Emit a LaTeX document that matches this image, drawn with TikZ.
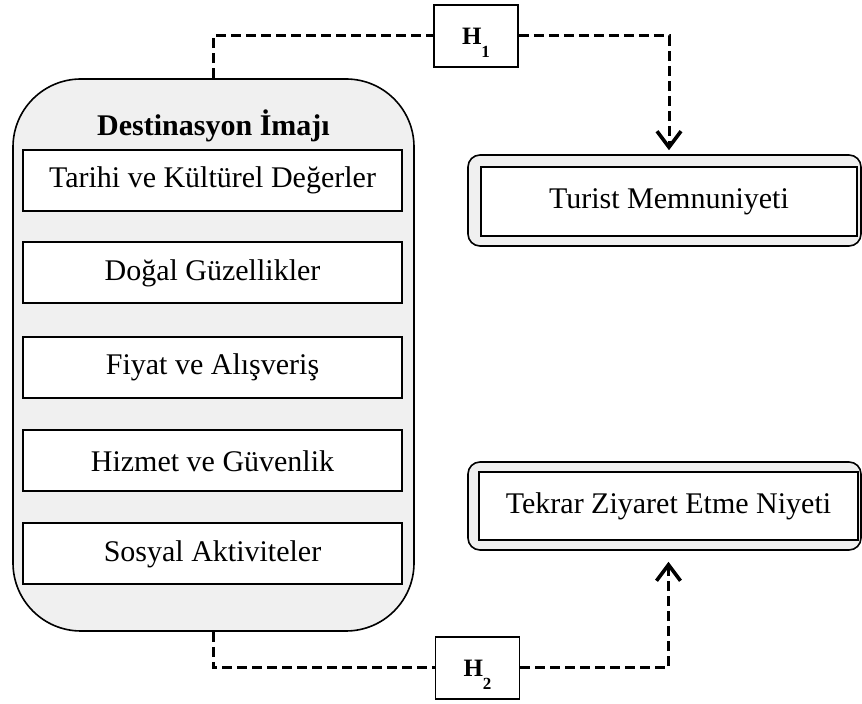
\documentclass[tikz,border=0pt]{standalone}
\usepackage{fontspec}
\setmainfont{Liberation Serif}
\usepackage{tikz}
\usetikzlibrary{arrows.meta}
\usetikzlibrary{calc}
\definecolor{zemin}{HTML}{F0F0F0}

\begin{document}
\begin{tikzpicture}[x=0.5pt,y=-0.5pt,
	kutu/.style={draw,line width=1pt,fill=white,inner sep=0pt,minimum width=189.5pt,minimum height=30.5pt,font=\fontsize{15}{18}\selectfont},
	dis/.style={draw,line width=0.8pt,fill=zemin,rounded corners=6pt,inner sep=0pt,minimum width=196.5pt},
	hip/.style={draw,line width=0.8pt,fill=white,inner sep=0pt,minimum width=42pt,minimum height=31pt,font=\fontsize{12.5}{14}\selectfont\bfseries},
	yol/.style={line width=1.5pt,dash pattern=on 5pt off 2.5pt},
	ok/.style={-{Straight Barb[length=8pt,width=12pt,line width=1.8pt]}}]
			\useasboundingbox(0,0)rectangle(862,704);
			\node[draw,line width=0.8pt,fill=zemin,rounded corners=34pt,inner sep=0pt,minimum width=200.5pt,minimum height=276pt](imaj)at(213.5,355){};
			\node[font=\fontsize{15}{18}\selectfont\bfseries](baslik)at(213.5,126){Destinasyon İmajı};
			\node[kutu](T1)at(212.5,180.5){Tarihi ve Kültürel Değerler};
			\node[kutu](T2)at(212.5,273){Doğal Güzellikler};
			\node[kutu](T3)at(212.5,367.5){Fiyat ve Alışveriş};
			\node[kutu](T4)at(212.5,461){Hizmet ve Güvenlik};
			\node[kutu](T5)at(212.5,554){Sosyal Aktiviteler};
			\node[dis,minimum height=45.5pt](memnun)at(664.5,200.5){};
			\node[kutu,minimum width=188pt,minimum height=34.5pt](TM)at(669,201.5){Turist Memnuniyeti};
			\node[dis,minimum height=44pt](niyet)at(664.5,506){};
			\node[kutu,minimum height=34pt](TZ)at(668.5,506){Tekrar Ziyaret Etme Niyeti};
			\node[hip](H1)at(476,36){H\smash{\raisebox{-1.2ex}{\fontsize{8.5}{9}\selectfont 1}}};
			\node[hip](H2)at(477.5,668){H\smash{\raisebox{-1.2ex}{\fontsize{8.5}{9}\selectfont 2}}};
			\draw[yol](imaj.north)|-(H1.west);
			\draw[yol,ok,shorten >=2pt](H1.east)-|(TM.north|-memnun.north);
			\draw[yol](imaj.south)|-(H2.west);
			\draw[yol,ok,shorten >=5.5pt](H2.east)-|(TZ.south|-niyet.south);
		\end{tikzpicture}
\end{document}
